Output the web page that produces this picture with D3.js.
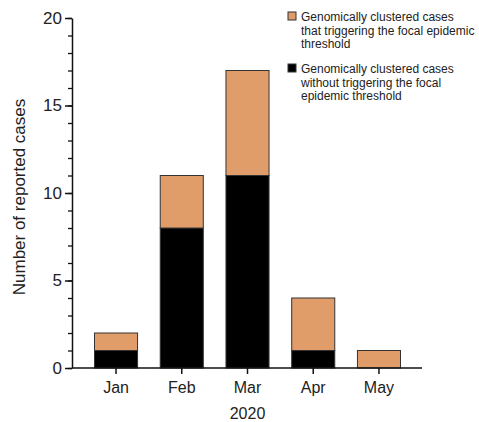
<!DOCTYPE html>
<html>
<head>
<meta charset="utf-8">
<script src="https://cdn.jsdelivr.net/npm/d3@7"></script>
<style>
  body { margin: 0; background: #fff; }
  text { font-family: "Liberation Sans", Arial, sans-serif; fill: #222; }
</style>
</head>
<body>
<svg id="chart" width="479" height="422"></svg>
<script>
const months = ["Jan", "Feb", "Mar", "Apr", "May"];
const withoutTrigger = [1, 8, 11, 1, 0];
const withTrigger = [1, 3, 6, 3, 1];
const yTicks = [0, 5, 10, 15, 20];
const legendLabels = [
  ["Genomically clustered cases", "that triggering the focal epidemic", "threshold"],
  ["Genomically clustered cases", "without triggering the focal", "epidemic threshold"]
];
const colors = ["#E09D6A", "#000000"];

const svg = d3.select("#chart");
const margin = { left: 72, top: 18, right: 57, bottom: 54 };
const W = 479, H = 422;

const x = d3.scaleBand().domain(months)
  .range([94.5, 400.5]).paddingInner(0.345).paddingOuter(0);
const y = d3.scaleLinear().domain([0, 20]).range([H - margin.bottom, margin.top]);

const data = months.map((m, i) => ({ m, lo: withoutTrigger[i], hi: withTrigger[i] }));
const g = svg.append("g");

// stacked bars: black base, orange on top
data.forEach(d => {
  if (d.lo > 0) {
    g.append("rect").attr("x", x(d.m)).attr("width", x.bandwidth())
      .attr("y", y(d.lo)).attr("height", y(0) - y(d.lo))
      .attr("fill", colors[1]).attr("stroke", "#333").attr("stroke-width", 1);
  }
  if (d.hi > 0) {
    g.append("rect").attr("x", x(d.m)).attr("width", x.bandwidth())
      .attr("y", y(d.lo + d.hi)).attr("height", y(d.lo) - y(d.lo + d.hi))
      .attr("fill", colors[0]).attr("stroke", "#333").attr("stroke-width", 1);
  }
});

// y axis: minor ticks every unit, labelled majors every 5
const yMinor = svg.append("g").attr("transform", `translate(${margin.left},0)`)
  .call(d3.axisLeft(y).tickValues(d3.range(0, 21)).tickSize(4).tickFormat(""));
yMinor.select(".domain").remove();
yMinor.selectAll("line").attr("stroke", "#111").attr("stroke-width", 1.3);

const yAxis = svg.append("g").attr("transform", `translate(${margin.left},0)`)
  .call(d3.axisLeft(y).tickValues(yTicks).tickSize(7).tickSizeOuter(0).tickPadding(3));
yAxis.select(".domain").attr("stroke", "#111").attr("stroke-width", 1.5);
yAxis.selectAll("line").attr("stroke", "#111").attr("stroke-width", 1.5);
yAxis.selectAll("text").attr("font-size", 17).style("fill", "#222");

// x axis
const xAxis = svg.append("g").attr("transform", `translate(0,${y(0)})`)
  .call(d3.axisBottom(x).tickSize(6).tickSizeOuter(0).tickPadding(8));
xAxis.select(".domain").attr("d", `M${margin.left},0H${W - margin.right}`)
  .attr("stroke", "#111").attr("stroke-width", 1.5);
xAxis.selectAll("line").attr("stroke", "#111").attr("stroke-width", 1.5);
xAxis.selectAll("text").attr("font-size", 16).style("fill", "#222");

// axis titles
svg.append("text").attr("x", x("Mar") + x.bandwidth() / 2).attr("y", 419)
  .attr("text-anchor", "middle").attr("font-size", 16).text("2020");
svg.append("text")
  .attr("transform", `translate(25,197) rotate(-90)`)
  .attr("text-anchor", "middle").attr("font-size", 17).text("Number of reported cases");

// legend
const legend = svg.append("g").attr("transform", "translate(288,12)");
legendLabels.forEach((lines, i) => {
  const row = legend.append("g").attr("transform", `translate(0,${i * 52})`);
  row.append("rect").attr("width", 8).attr("height", 8)
    .attr("fill", colors[i]).attr("stroke", "#333").attr("stroke-width", 1);
  const t = row.append("text").attr("x", 13).attr("y", 9).attr("font-size", 12);
  lines.forEach((ln, j) => {
    t.append("tspan").attr("x", 13).attr("dy", j === 0 ? 0 : 13.5).text(ln);
  });
});
</script>
</body>
</html>
